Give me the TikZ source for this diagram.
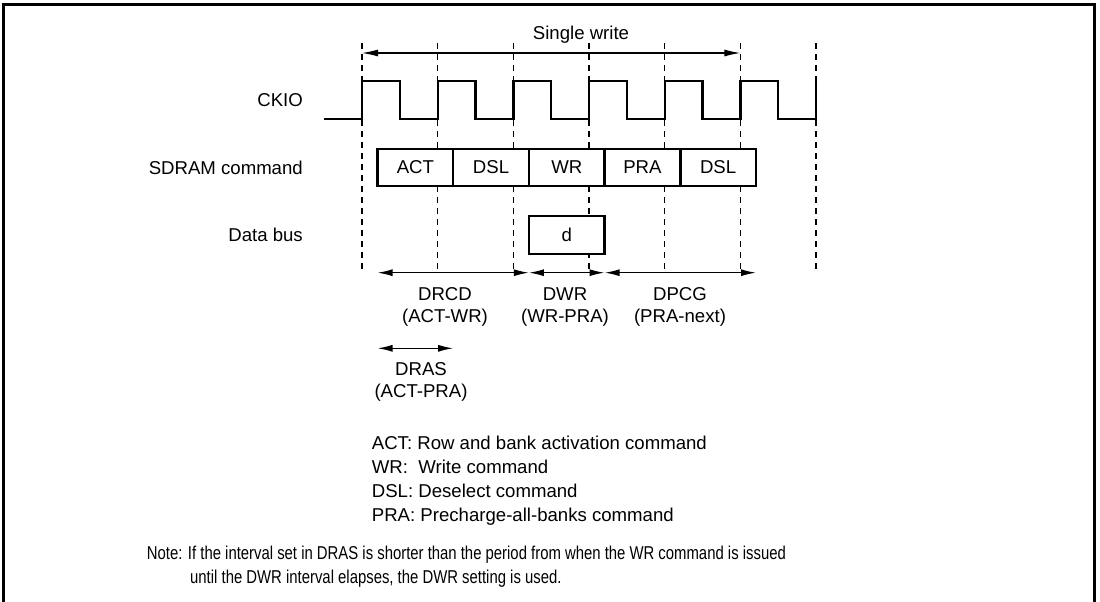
\documentclass[tikz,border=0pt]{standalone}
\usepackage{fontspec}
\setmainfont{Liberation Sans}
\newfontfamily\narrowfont[FakeStretch=0.8]{Liberation Sans}
\usetikzlibrary{arrows.meta}
\begin{document}
\begin{tikzpicture}[x=1pt,y=-1pt,
  txt/.style={font=\fontsize{18.6}{22}\selectfont, inner sep=0pt},
  notetxt/.style={font=\narrowfont\fontsize{18.6}{22}\selectfont, inner sep=0pt},
  frame/.style={line width=2.5pt},
  clk/.style={line width=2.4pt, line join=miter},
  guide/.style={line width=1.2pt, dash pattern=on 6pt off 5pt},
  cmdbox/.style={draw, line width=2.4pt, fill=white, minimum width=75.7pt, minimum height=37pt, inner sep=0pt, font=\fontsize{18.6}{22}\selectfont},
  dim/.style={line width=1.4pt, {Latex[length=15pt,width=7pt]}-{Latex[length=15pt,width=7pt]}},
  span/.style={line width=1.1pt, {Latex[length=16pt,width=7pt]}-{Latex[length=16pt,width=7pt]}},
]
\useasboundingbox (0,0) rectangle (1100,602);
% frame
\draw[frame] (3.5,604) -- (3.5,4.5) -- (1094.5,4.5) -- (1094.5,604);

% dashed guides
\foreach \x in {362,437.7,513.3,589,664.7,740.3,816}
  \draw[guide] (\x,43) -- (\x,272);

% single write span
\coordinate (sw1) at (362,53);
\coordinate (sw2) at (740.3,53);
\draw[span] (sw1) -- (sw2);
\node[txt, anchor=base] (single) at (581,39.7) {Single write};

% clock
\draw[clk] (324,118.7) -- (362,118.7) -- (362,81) -- (399.8,81) -- (399.8,118.7)
  -- (437.7,118.7) -- (437.7,81) -- (475.5,81) -- (475.5,118.7)
  -- (513.3,118.7) -- (513.3,81) -- (551.2,81) -- (551.2,118.7)
  -- (589,118.7) -- (589,81) -- (626.8,81) -- (626.8,118.7)
  -- (664.7,118.7) -- (664.7,81) -- (702.5,81) -- (702.5,118.7)
  -- (740.3,118.7) -- (740.3,81) -- (778.2,81) -- (778.2,118.7)
  -- (816,118.7) -- (816,81);

% row labels
\node[txt, anchor=base east] (ckio) at (303,106.7) {CKIO};
\node[txt, anchor=base east] (sdram) at (303,174.2) {SDRAM command};
\node[txt, anchor=base east] (dbus) at (303,241.7) {Data bus};

% command boxes
\node[cmdbox] (act)  at (415.35,167.5) {ACT};
\node[cmdbox] (dsl1) at (491.05,167.5) {DSL};
\node[cmdbox] (wr)   at (566.75,167.5) {WR};
\node[cmdbox] (pra)  at (642.45,167.5) {PRA};
\node[cmdbox] (dsl2) at (718.15,167.5) {DSL};

% data box
\node[cmdbox, minimum height=38pt] (d) at (566.75,235) {d};

% timing arrows
\coordinate (t0) at (377.5,272.7);
\coordinate (t1) at (528.9,272.7);
\coordinate (t2) at (604.6,272.7);
\coordinate (t3) at (756,272.7);
\draw[dim] (t0) -- (t1);
\draw[dim] (t1) -- (t2);
\draw[dim] (t2) -- (t3);
\node[txt, anchor=base] (drcd) at (445,300.7) {DRCD};
\node[txt, anchor=base] (drcd2) at (445,322.7) {(ACT-WR)};
\node[txt, anchor=base] (dwr) at (565,300.7) {DWR};
\node[txt, anchor=base] (dwr2) at (565,322.7) {(WR-PRA)};
\node[txt, anchor=base] (dpcg) at (680,300.7) {DPCG};
\node[txt, anchor=base] (dpcg2) at (680,322.7) {(PRA-next)};

\coordinate (r0) at (377.5,348.3);
\coordinate (r1) at (453.2,348.3);
\draw[dim] (r0) -- (r1);
\node[txt, anchor=base] (dras) at (421,375.7) {DRAS};
\node[txt, anchor=base] (dras2) at (421,397.7) {(ACT-PRA)};

% legend
\node[txt, anchor=base west] (l1) at (371.7,449) {ACT: Row and bank activation command};
\node[txt, anchor=base west] (l2) at (371.7,473) {WR:\ \ Write command};
\node[txt, anchor=base west] (l3) at (371.7,497) {DSL: Deselect command};
\node[txt, anchor=base west] (l4) at (371.7,521) {PRA: Precharge-all-banks command};

% note
\node[notetxt, anchor=base west] (n1) at (146.7,559.5) {Note: If the interval set in DRAS is shorter than the period from when the WR command is issued};
\node[notetxt, anchor=base west] (n2) at (190,583.7) {until the DWR interval elapses, the DWR setting is used.};
\end{tikzpicture}
\end{document}
